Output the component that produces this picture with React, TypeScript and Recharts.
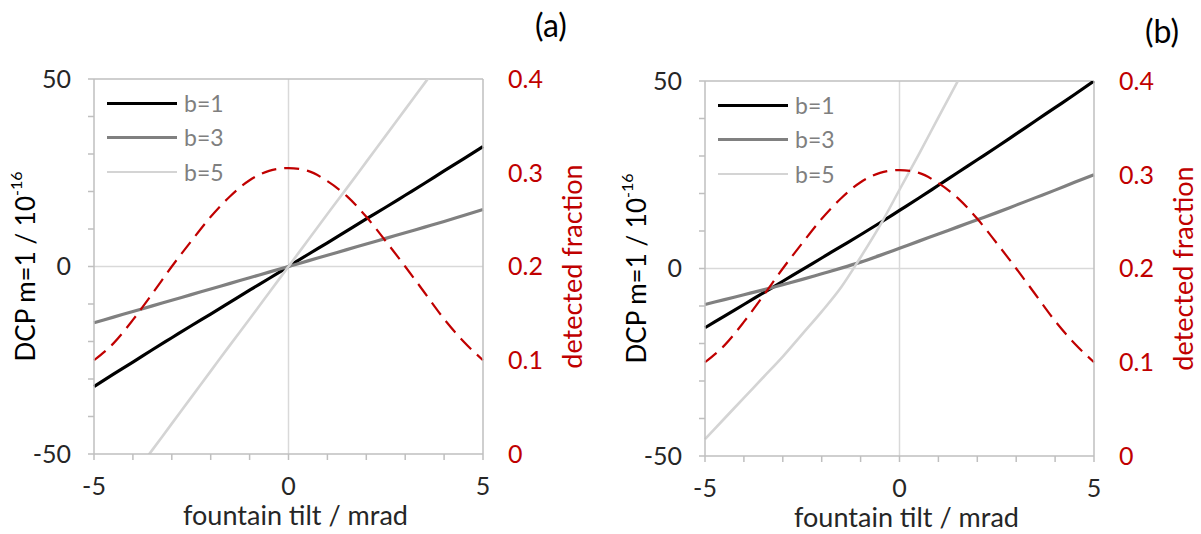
import React from 'react';
import {
  ComposedChart,
  Line,
  XAxis,
  YAxis,
  CartesianGrid,
  ReferenceLine,
  Legend,
  Label,
} from 'recharts';

// Fountain tilt in mrad (shared x grid of both panels)
const tilt = [-5, -4.5, -4, -3.5, -3, -2.5, -2, -1.5, -1, -0.5, 0, 0.5, 1, 1.5, 2, 2.5, 3, 3.5, 4, 4.5, 5];

// Panel (a): DCP m=1 in units of 1e-16
const dcpA_b1 = [-32, -28.7, -25.5, -22.2, -19, -15.8, -12.7, -9.5, -6.3, -3.2, 0, 3.2, 6.3, 9.5, 12.7, 15.8, 19, 22.2, 25.5, 28.7, 32];
const dcpA_b3 = [-15, -13.5, -12, -10.5, -9, -7.5, -6, -4.5, -3, -1.5, 0, 1.5, 3, 4.5, 6, 7.5, 9, 10.5, 12, 13.6, 15.2];
const dcpA_b5 = [null, null, -55.9, -48.9, -41.9, -34.9, -27.9, -20.9, -14, -7, 0, 7, 14, 20.9, 27.9, 34.9, 41.9, 48.9, 55.9, null, null];

// Panel (b): DCP m=1 in units of 1e-16
const dcpB_b1 = [-15.8, -12.7, -9.6, -6.5, -3.4, -0.3, 2.8, 5.9, 9, 12.2, 15.5, 18.8, 22.2, 25.6, 29, 32.4, 35.9, 39.4, 42.9, 46.4, 50];
const dcpB_b3 = [-9.6, -8.3, -7, -5.7, -4.3, -2.9, -1.4, 0.1, 1.7, 3.5, 5.4, 7.3, 9.2, 11.1, 13, 14.9, 16.9, 18.9, 20.9, 23, 25];
const dcpB_b5 = [-45.5, -40, -34.5, -29, -23.5, -17.5, -11.5, -5, 3, 11.5, 21, 30.5, 40.3, 50, null, null, null, null, null, null, null];

// Detected fraction (right axis)
const fracA = [0.1, 0.118, 0.143, 0.171, 0.2, 0.227, 0.253, 0.275, 0.292, 0.302, 0.305, 0.302, 0.291, 0.275, 0.253, 0.227, 0.2, 0.172, 0.144, 0.12, 0.1];
const fracB = [0.1, 0.118, 0.143, 0.171, 0.2, 0.227, 0.253, 0.275, 0.292, 0.302, 0.305, 0.302, 0.291, 0.275, 0.253, 0.227, 0.2, 0.172, 0.144, 0.12, 0.1];

const xTicks = [-5, -4, -3, -2, -1, 0, 1, 2, 3, 4, 5];
const xLabelTicks = [-5, 0, 5];
const dcpTicks = [-50, -40, -30, -20, -10, 0, 10, 20, 30, 40, 50];
const dcpLabelTicks = [-50, 0, 50];
const fracTicks = [0, 0.1, 0.2, 0.3, 0.4];

const SERIES = [
  { key: 'b1', name: 'b=1', color: '#000000', width: 3.2 },
  { key: 'b3', name: 'b=3', color: '#808080', width: 3.2 },
  { key: 'b5', name: 'b=5', color: '#d4d4d4', width: 2.6 },
];

const FONT = 'Lato, "Open Sans", sans-serif';
const AXIS_GREY = '#bfbfbf';
const GRID_GREY = '#d9d9d9';
const RED = '#c00000';
const TEXT = '#262626';

const buildRows = (b1: (number | null)[], b3: (number | null)[], b5: (number | null)[], frac: number[]) =>
  tilt.map((t, i) => ({ tilt: t, b1: b1[i], b3: b3[i], b5: b5[i], frac: frac[i] }));

const rowsA = buildRows(dcpA_b1, dcpA_b3, dcpA_b5, fracA);
const rowsB = buildRows(dcpB_b1, dcpB_b3, dcpB_b5, fracB);

const LegendBox = () => (
  <div style={{ fontFamily: FONT }}>
    {SERIES.map((s) => (
      <div key={s.key} style={{ display: 'flex', alignItems: 'center', height: 34.5 }}>
        <span
          style={{
            display: 'inline-block',
            width: 70,
            height: 0,
            borderTop: `${s.width}px solid ${s.color}`,
            marginRight: 7,
          }}
        />
        <span style={{ fontSize: 23, color: '#7f7f7f', lineHeight: 1 }}>{s.name}</span>
      </div>
    ))}
  </div>
);

type PanelProps = {
  rows: ReturnType<typeof buildRows>;
  width: number;
  top: number;
  xAxisHeight: number;
  leftWidth: number;
  rightWidth: number;
};

const Panel = ({ rows, width, top, xAxisHeight, leftWidth, rightWidth }: PanelProps) => (
  <ComposedChart
    width={width}
    height={534}
    data={rows}
    margin={{ top, right: 0, bottom: 0, left: 0 }}
    style={{ fontFamily: FONT }}
  >
    <CartesianGrid
      stroke={GRID_GREY}
      strokeWidth={1.5}
      horizontalValues={[0]}
      verticalValues={[0]}
    />
    <XAxis
      dataKey="tilt"
      type="number"
      domain={[-5, 5]}
      ticks={xTicks}
      interval={0}
      tickFormatter={(v: number) => (xLabelTicks.includes(v) ? String(v) : '')}
      tick={{ fill: TEXT, fontSize: 25, fontFamily: FONT }}
      tickSize={6}
      tickMargin={17}
      tickLine={{ stroke: AXIS_GREY, strokeWidth: 1.5 }}
      axisLine={{ stroke: AXIS_GREY, strokeWidth: 1.5 }}
      height={xAxisHeight}
    >
      <Label
        content={({ viewBox }: any) => (
          <text
            x={viewBox.x + viewBox.width / 2 + 7}
            y={viewBox.y + 71}
            textAnchor="middle"
            fontSize={27}
            fontFamily={FONT}
            fill={TEXT}
          >
            fountain tilt / mrad
          </text>
        )}
      />
    </XAxis>
    <YAxis
      yAxisId={0}
      type="number"
      domain={[-50, 50]}
      allowDataOverflow
      ticks={dcpTicks}
      interval={0}
      tickFormatter={(v: number) => (dcpLabelTicks.includes(v) ? String(v) : '')}
      tick={{ fill: TEXT, fontSize: 25, fontFamily: FONT }}
      tickSize={6}
      tickMargin={17}
      tickLine={{ stroke: AXIS_GREY, strokeWidth: 1.5 }}
      axisLine={{ stroke: AXIS_GREY, strokeWidth: 1.5 }}
      width={leftWidth}
    >
      <Label
        content={({ viewBox }: any) => {
          const cx = viewBox.x + viewBox.width - 69;
          const cy = viewBox.y + viewBox.height / 2;
          return (
            <text
              x={cx}
              y={cy}
              transform={`rotate(-90, ${cx}, ${cy})`}
              textAnchor="middle"
              dominantBaseline="central"
              fontSize={26}
              fontFamily={FONT}
              fill="#000"
            >
              DCP m=1  / 10
              <tspan dy={-10} fontSize={16}>
                -16
              </tspan>
            </text>
          );
        }}
      />
    </YAxis>
    <YAxis
      yAxisId="frac"
      orientation="right"
      type="number"
      domain={[0, 0.4]}
      ticks={fracTicks}
      interval={0}
      tickFormatter={(v: number) => String(v)}
      tick={{ fill: RED, fontSize: 25, fontFamily: FONT }}
      tickSize={0}
      tickMargin={25}
      tickLine={false}
      axisLine={{ stroke: AXIS_GREY, strokeWidth: 1.5 }}
      width={rightWidth}
    >
      <Label
        content={({ viewBox }: any) => {
          const cx = viewBox.x + 88;
          const cy = viewBox.y + viewBox.height / 2;
          return (
            <text
              x={cx}
              y={cy}
              transform={`rotate(-90, ${cx}, ${cy})`}
              textAnchor="middle"
              dominantBaseline="central"
              fontSize={27}
              fontFamily={FONT}
              fill={RED}
            >
              detected fraction
            </text>
          );
        }}
      />
    </YAxis>
    <ReferenceLine yAxisId={0} y={50} stroke={AXIS_GREY} strokeWidth={1.5} />
    {SERIES.map((s) => (
      <Line
        key={s.key}
        yAxisId={0}
        dataKey={s.key}
        name={s.name}
        stroke={s.color}
        strokeWidth={s.width}
        dot={false}
        activeDot={false}
        isAnimationActive={false}
        type="monotone"
      />
    ))}
    <Line
      yAxisId="frac"
      dataKey="frac"
      name="detected fraction"
      stroke={RED}
      strokeWidth={2.2}
      strokeDasharray="15 8"
      dot={false}
      activeDot={false}
      isAnimationActive={false}
      type="monotone"
    />
    <Legend
      layout="horizontal"
      align="center"
      verticalAlign="middle"
      content={() => <LegendBox />}
      wrapperStyle={{ left: leftWidth + 13, top: top + 7, width: 140 }}
    />
  </ComposedChart>
);

export default function App() {
  return (
    <div
      style={{
        position: 'absolute',
        left: 0,
        top: 0,
        width: 1201,
        height: 534,
        background: '#fff',
        fontFamily: FONT,
      }}
    >
      <div style={{ position: 'absolute', left: 0, top: 0 }}>
        <Panel rows={rowsA} width={600} top={79} xAxisHeight={80} leftWidth={94} rightWidth={117} />
      </div>
      <div style={{ position: 'absolute', left: 600, top: 0 }}>
        <Panel rows={rowsB} width={601} top={81} xAxisHeight={78} leftWidth={105} rightWidth={107} />
      </div>
      <svg
        width={1201}
        height={534}
        style={{ position: 'absolute', left: 0, top: 0, pointerEvents: 'none' }}
      >
        <text x={551} y={37} textAnchor="middle" fontSize={32} fontFamily={FONT} fill="#000">
          (a)
        </text>
        <text x={1162} y={43} textAnchor="middle" fontSize={32} fontFamily={FONT} fill="#000">
          (b)
        </text>
      </svg>
    </div>
  );
}
